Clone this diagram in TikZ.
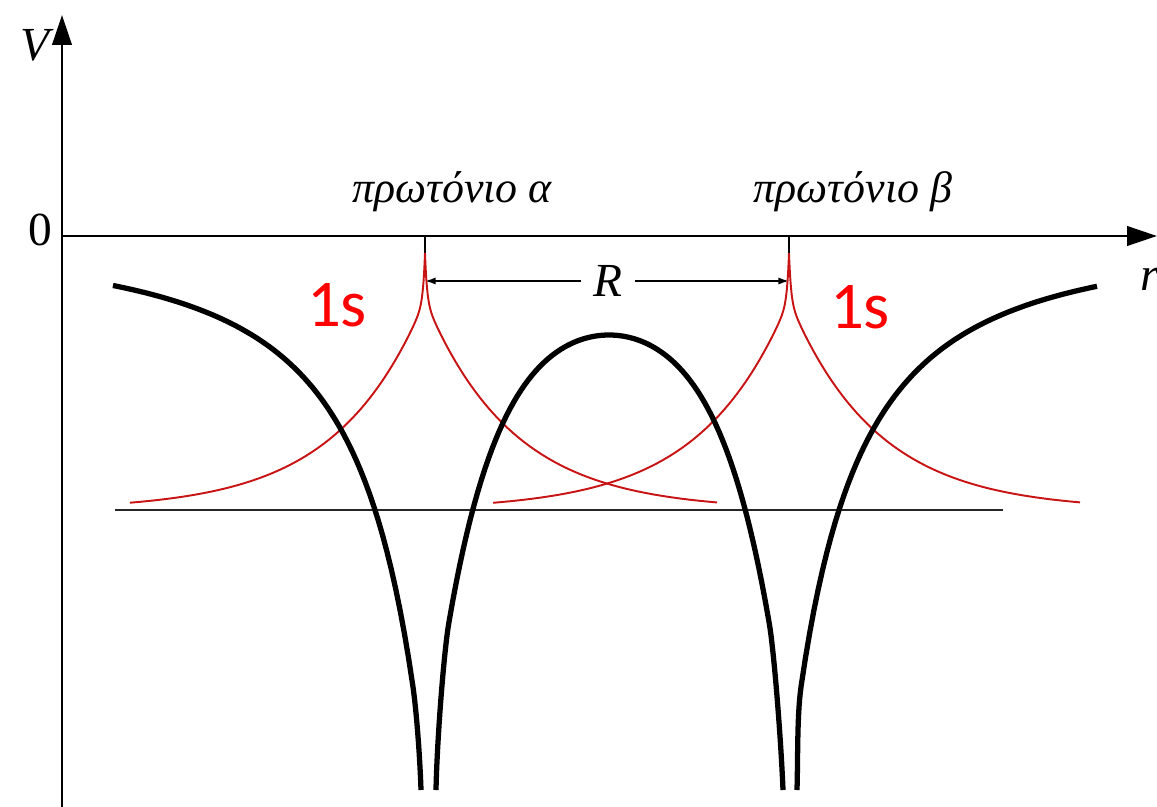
\documentclass[tikz,border=0pt]{standalone}
\usepackage{fontspec}
\setmainfont{Liberation Serif}
\newfontfamily\orbfont{Carlito}
\usetikzlibrary{arrows.meta}
\definecolor{orbred}{RGB}{200,20,20}
\begin{document}
\begin{tikzpicture}[x=0.02cm,y=-0.02cm,
  axis/.style={line width=1.6pt,-{Triangle[length=17pt,width=11pt]}},
  pot/.style={line width=3pt,line join=round},
  orb/.style={line width=1.1pt,orbred},
  level/.style={line width=1.3pt,black!85},
  dim/.style={line width=0.9pt,-{Latex[length=6pt,width=4pt]}},
  lbl/.style={font=\fontsize{27}{30}\selectfont\itshape,inner sep=0pt},
  greek/.style={font=\fontsize{25}{28}\selectfont\itshape,inner sep=0pt},
  orbtext/.style={font=\orbfont\fontsize{38}{40}\selectfont,text=red,inner sep=0pt}]
\useasboundingbox (0,0) rectangle (1157,807);
% axes
\coordinate (vbot) at (62,807);
\coordinate (vtop) at (62,15);
\coordinate (orig) at (62,236);
\coordinate (rend) at (1157,236);
\draw[axis] (vbot) -- (vtop);
\draw[axis] (orig) -- (rend);
\node[lbl] (vlab) at (35,45) {V};
\node[inner sep=0pt,font=\fontsize{27}{30}\selectfont] (zlab) at (40,230) {0};
\node[lbl] (rlab) at (1150,279) {r};
% protons
\coordinate (pa) at (425,236);
\coordinate (ca) at (425,253);
\coordinate (pb) at (789,236);
\coordinate (cb) at (789,253);
\draw[line width=1pt] (pa) -- (ca);
\draw[line width=1pt] (pb) -- (cb);
\node[greek,anchor=base] (laba) at (452,203) {πρωτόνιο α};
\node[greek,anchor=base] (labb) at (853,203) {πρωτόνιο β};
% distance R
\coordinate (ra) at (425,281);
\coordinate (rb) at (789,281);
\node[lbl,inner xsep=7pt] (rdist) at (608,281) {R};
\draw[dim] (rdist) -- (ra);
\draw[dim] (rdist) -- (rb);
% level
\coordinate (lvll) at (115,510);
\coordinate (lvlr) at (1003,510);
\draw[level] (lvll) -- (lvlr);
% 1s orbitals
\draw[orb] plot[domain=-17.18:17.09,samples=121,variable=\t]
  ({425+\t*abs(\t)},{510-210*exp(-\t*\t/87.8)-47*exp(-\t*\t/1.94)});
\draw[orb] plot[domain=-17.2:17.06,samples=121,variable=\t]
  ({789+\t*abs(\t)},{510-210*exp(-\t*\t/87.8)-47*exp(-\t*\t/1.94)});
\node[orbtext] (sa) at (337,305) {1s};
\node[orbtext] (sb) at (860,307) {1s};
% potential
\coordinate (abot) at (421,790);
\coordinate (hbl) at (436,790);
\coordinate (hbr) at (783,790);
\coordinate (bbot) at (797,790);
\draw[pot] plot[domain=312:12,samples=70,variable=\d]
  ({425-\d},{237+546*(100/(\d+100))^1.71})
  .. controls (417,716) and (420,760) .. (abot);
\draw[pot] (hbl) .. controls (437,740) and (444,650) .. (449,622)
  -- plot[domain=-160:160,samples=90,variable=\d]
  ({609+\d},{335+35*((exp(\d/55)+exp(-\d/55))/2-1)})
  .. controls (774,650) and (781,740) .. (hbr);
\draw[pot] (bbot) .. controls (798,755) and (797,716) .. (801,687)
  -- plot[domain=12:308,samples=70,variable=\d]
  ({789+\d},{237+546*(100/(\d+100))^1.71});
\end{tikzpicture}
\end{document}
